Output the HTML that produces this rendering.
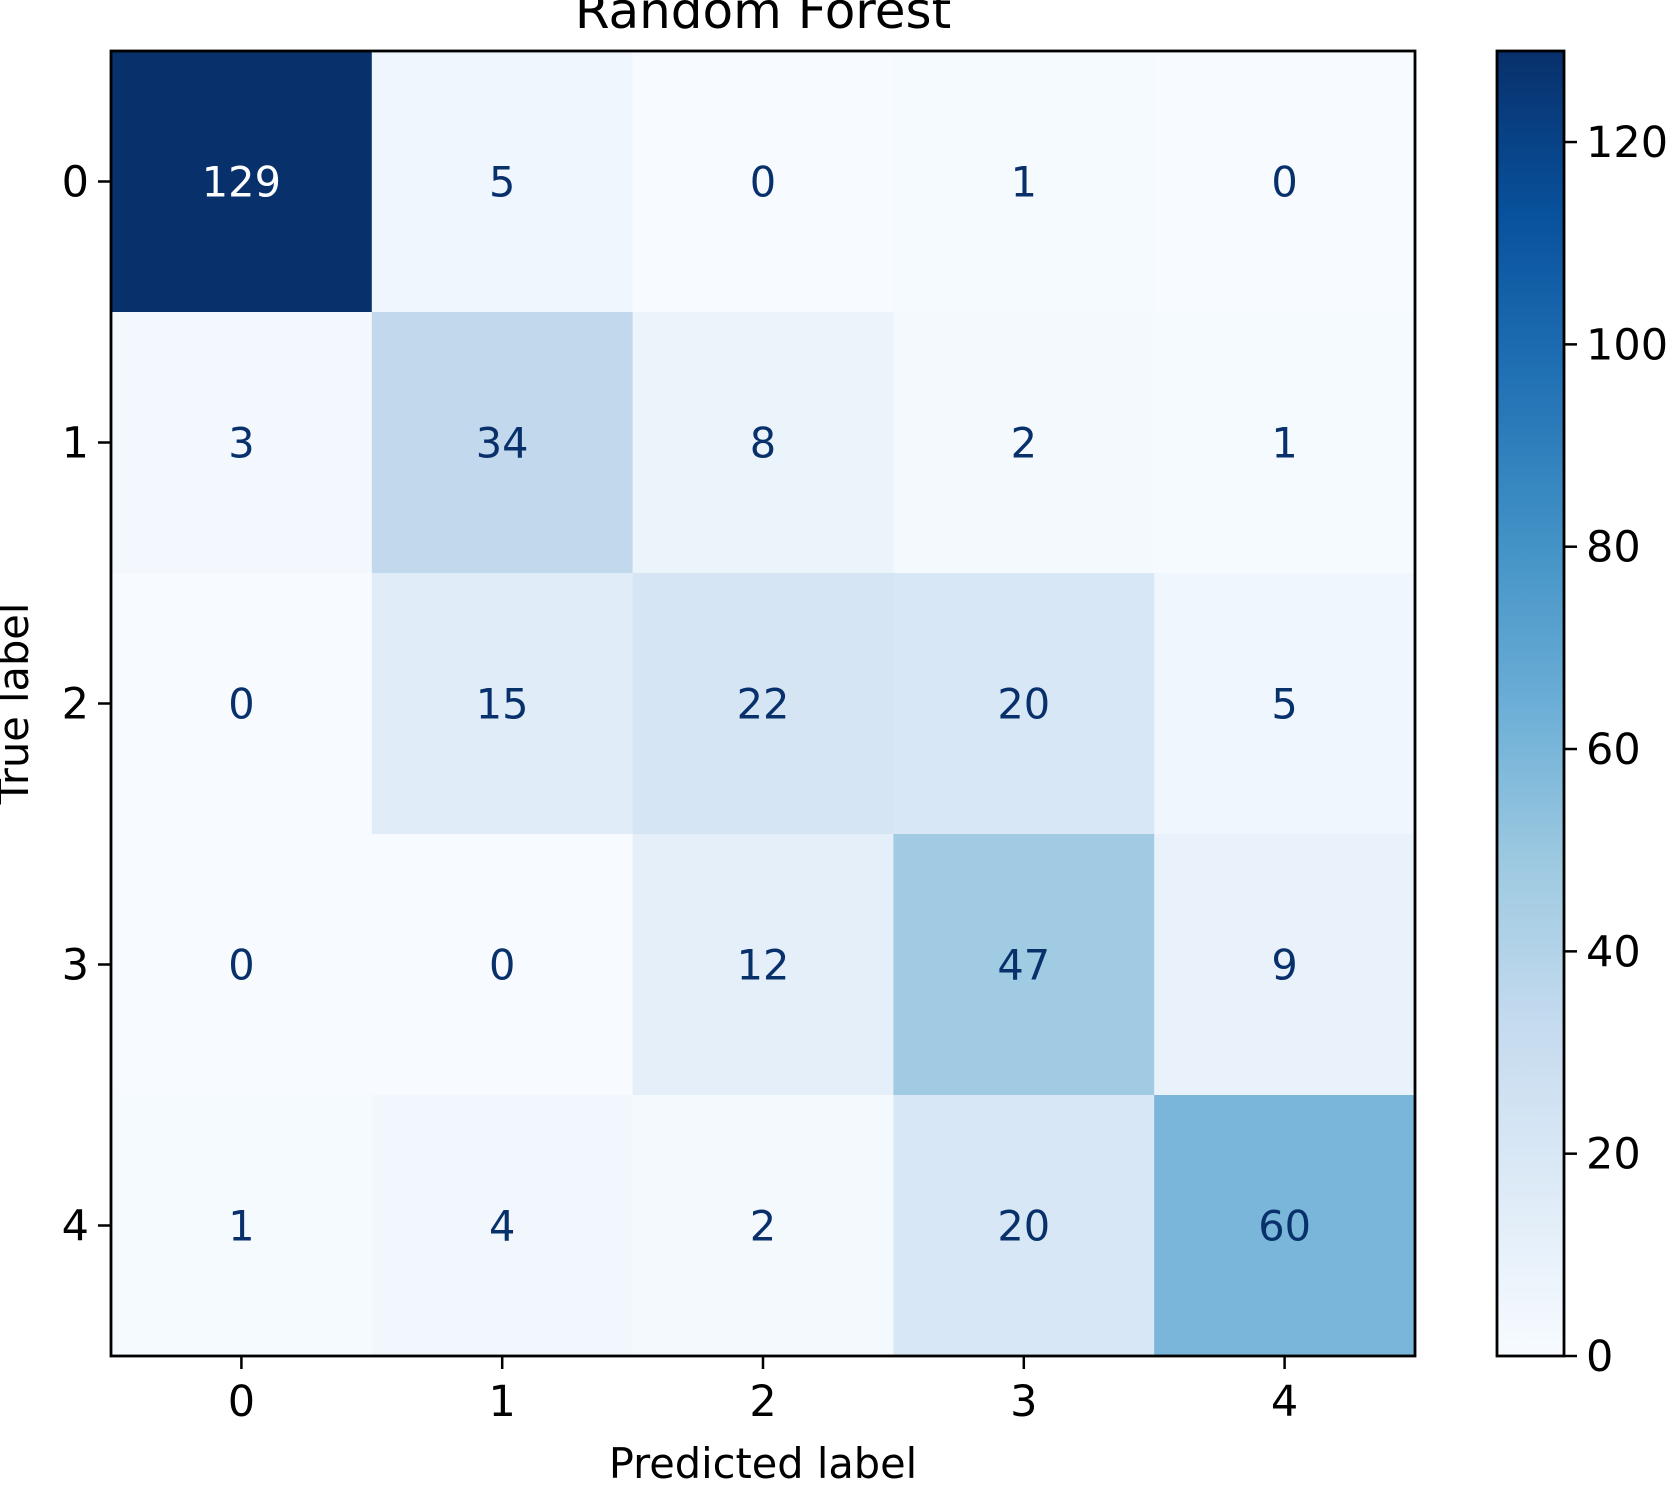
<!DOCTYPE html>
<html><head><meta charset="utf-8"><style>
body{margin:0;background:#fff;}
svg text{font-family:"DejaVu Sans","Liberation Sans",sans-serif;}
</style></head><body>
<svg id="chart" width="1668" height="1488" viewBox="0 0 1668 1488" xmlns="http://www.w3.org/2000/svg">
<defs>
<linearGradient id="cbgrad" x1="0" y1="1" x2="0" y2="0">
<stop offset="0" stop-color="#f7fbff"/><stop offset="0.125" stop-color="#deebf7"/>
<stop offset="0.25" stop-color="#c6dbef"/><stop offset="0.375" stop-color="#9ecae1"/>
<stop offset="0.5" stop-color="#6baed6"/><stop offset="0.625" stop-color="#4292c6"/>
<stop offset="0.75" stop-color="#2171b5"/><stop offset="0.875" stop-color="#08519c"/>
<stop offset="1" stop-color="#08306b"/>
</linearGradient>
</defs>
<g id="cells"></g>
<g id="axes"></g>
</svg>
<script>
const classes = ['0','1','2','3','4'];
const row0 = [129,5,0,1,0];
const row1 = [3,34,8,2,1];
const row2 = [0,15,22,20,5];
const row3 = [0,0,12,47,9];
const row4 = [1,4,2,20,60];
const matrix = [row0,row1,row2,row3,row4];
const cbTicks = [0,20,40,60,80,100,120];
const vmin = 0, vmax = 129;

const NS='http://www.w3.org/2000/svg';
const L=111,R=1415,T=51,B=1356;
const n=classes.length, cw=(R-L)/n, ch=(B-T)/n;
const CBL=1497,CBR=1564;
function xPos(i){return L+cw*(i+0.5);}
function yPos(i){return T+ch*(i+0.5);}
function cbY(v){return B-(v-vmin)/(vmax-vmin)*(B-T);}
const stops=[[247,251,255],[222,235,247],[198,219,239],[158,202,225],[107,174,214],[66,146,198],[33,113,181],[8,81,156],[8,48,107]];
function color(v){let t=(v-vmin)/(vmax-vmin);t=Math.max(0,Math.min(1,t))*8;const i=Math.min(7,Math.floor(t)),f=t-i;const a=stops[i],b=stops[i+1];return 'rgb('+a.map((c,k)=>Math.round(c+(b[k]-c)*f)).join(',')+')';}
function mk(tag,attrs,parent,txt){const e=document.createElementNS(NS,tag);for(const k in attrs)e.setAttribute(k,attrs[k]);if(txt!==undefined)e.textContent=txt;parent.appendChild(e);return e;}
const cells=document.getElementById('cells'), axes=document.getElementById('axes');
for(let r=0;r<n;r++)for(let c=0;c<n;c++){
 const v=matrix[r][c];
 const rect=mk('rect',{x:L+cw*c,y:T+ch*r,width:cw+0.5,height:ch+0.5,fill:color(v)},cells);
 
 
 const t=mk('text',{x:xPos(c),y:yPos(r)+15,'text-anchor':'middle','font-size':'41.5',fill:v>(vmax+vmin)/2?'#ffffff':'#08306b'},cells,String(v));
 
 
}
const frame=mk('rect',{x:L,y:T,width:R-L,height:B-T,fill:'none',stroke:'#000','stroke-width':'2.8'},axes);


classes.forEach((lab,i)=>{
 mk('line',{x1:xPos(i),x2:xPos(i),y1:B,y2:B+13,stroke:'#000','stroke-width':'2.5'},axes);
 const tx=mk('text',{x:xPos(i),y:B+60,'text-anchor':'middle','font-size':'43',fill:'#000'},axes,lab);
 
 
 mk('line',{x1:L-13,x2:L,y1:yPos(i),y2:yPos(i),stroke:'#000','stroke-width':'2.5'},axes);
 const ty=mk('text',{x:L-22,y:yPos(i)+15,'text-anchor':'end','font-size':'43',fill:'#000'},axes,lab);
 
 
});
const title=mk('text',{x:(L+R)/2,y:28,'text-anchor':'middle','font-size':'50',fill:'#000'},axes,'Random Forest');


const xl=mk('text',{x:(L+R)/2,y:1478,'text-anchor':'middle','font-size':'41.5',fill:'#000'},axes,'Predicted label');


const yl=mk('text',{x:0,y:0,'text-anchor':'middle','font-size':'41.5',fill:'#000',transform:'translate(28,'+((T+B)/2)+') rotate(-90)'},axes,'True label');


const cb=mk('rect',{x:CBL,y:T,width:CBR-CBL,height:B-T,fill:'url(#cbgrad)',stroke:'#000','stroke-width':'2.8'},axes);


cbTicks.forEach(v=>{
 mk('line',{x1:CBR,x2:CBR+13,y1:cbY(v),y2:cbY(v),stroke:'#000','stroke-width':'2.5'},axes);
 const t=mk('text',{x:CBR+22,y:cbY(v)+15,'font-size':'43',fill:'#000'},axes,String(v));
 
 
});
</script>
</body></html>
